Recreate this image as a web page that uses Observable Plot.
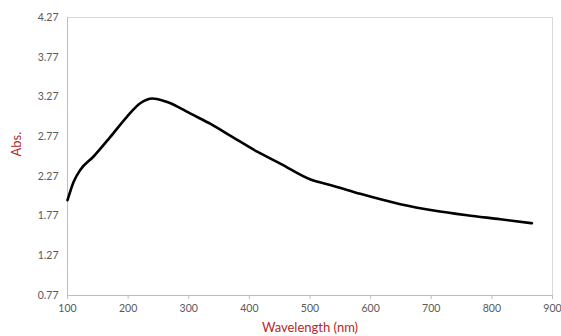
<!DOCTYPE html>
<html>
<head>
<meta charset="utf-8">
<script src="https://cdn.jsdelivr.net/npm/d3@7"></script>
<script src="https://cdn.jsdelivr.net/npm/@observablehq/plot@0.6"></script>
<style>
  html, body { margin: 0; padding: 0; background: #fff; }
  #chart { width: 561px; height: 336px; overflow: hidden; }
</style>
</head>
<body>
<div id="chart"></div>
<script>
const wavelength = [100, 110, 121, 143, 171, 198, 220, 240, 259, 270, 286, 303, 336, 369, 413, 451, 501, 539, 583, 649, 704, 759, 814, 866];
const absorbance = [1.97, 2.20, 2.35, 2.52, 2.77, 3.02, 3.19, 3.25, 3.22, 3.19, 3.13, 3.06, 2.93, 2.78, 2.58, 2.43, 2.23, 2.15, 2.05, 1.92, 1.84, 1.78, 1.73, 1.68];
const xTicks = [100, 200, 300, 400, 500, 600, 700, 800, 900];
const yTicks = [0.77, 1.27, 1.77, 2.27, 2.77, 3.27, 3.77, 4.27];

const data = wavelength.map((w, i) => ({w, a: absorbance[i]}));

const chart = Plot.plot({
  width: 561,
  height: 336,
  marginLeft: 67,
  marginRight: 9,
  marginTop: 17,
  marginBottom: 41,
  style: {fontFamily: "Lato, 'Open Sans', sans-serif", fontSize: "10.5px", color: "#595959", background: "#fff"},
  x: {domain: [100, 900], label: null},
  y: {domain: [0.77, 4.27], label: null},
  marks: [
    Plot.frame({stroke: "#d9d9d9"}),
    Plot.ruleX([100], {stroke: "#bfbfbf"}),
    Plot.ruleY([0.77], {stroke: "#bfbfbf"}),
    Plot.axisX({ticks: xTicks, tickSize: 4, stroke: "#bfbfbf", tickPadding: 5, fill: "#595959", fontSize: 10.5, tickFormat: d => String(d)}),
    Plot.axisY({ticks: yTicks, tickSize: 0, tickPadding: 9, fill: "#595959", fontSize: 10.5, tickFormat: d => d.toFixed(2)}),
    Plot.line(data, {x: "w", y: "a", stroke: "#000", strokeWidth: 2.6, curve: "monotone-x"}),
    Plot.text(["Wavelength (nm)"], {frameAnchor: "bottom", dy: 36, fill: "#b22a2a", fontSize: 13}),
    Plot.text(["Abs."], {frameAnchor: "left", dx: -51, rotate: -90, fill: "#b22a2a", fontSize: 13})
  ]
});
document.getElementById("chart").appendChild(chart);
</script>
</body>
</html>
